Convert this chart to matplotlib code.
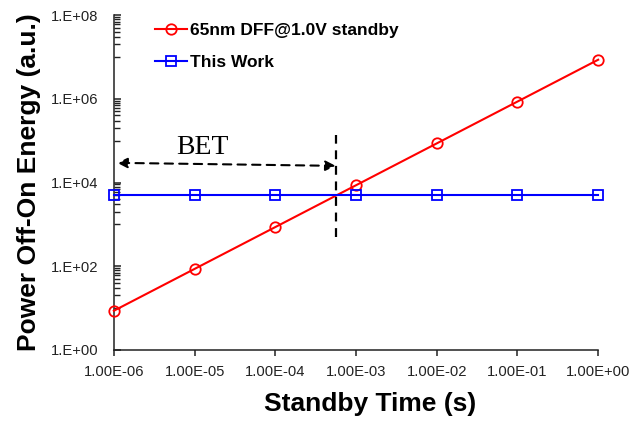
import numpy as np
import matplotlib
matplotlib.use('Agg')
import matplotlib.pyplot as plt
from matplotlib.ticker import FixedLocator, FuncFormatter

# standby time (s)
tiempo = [1e-6, 1e-5, 1e-4, 1e-3, 1e-2, 1e-1, 1e0]
# energia de apagado/encendido (a.u.)
dff = [8.6, 86, 860, 8600, 8.6e4, 8.6e5, 8.6e6]
this_work = [5000, 5000, 5000, 5000, 5000, 5000, 5000]
bet = 5.6e-4

y_major = [1e0, 1e2, 1e4, 1e6, 1e8]
y_minor = [k * 10.0**e for e in (1, 3, 5, 7) for k in range(1, 10)]

plt.rcParams['font.family'] = ['Liberation Sans', 'DejaVu Sans']

fig = plt.figure(figsize=(6.29, 4.21), dpi=100)
ax = fig.add_axes([0.181, 0.169, 0.77, 0.795])

ax.plot(tiempo, dff, color='#ff0000', lw=1.5, marker='o', ms=7.5,
        mfc='none', mew=1.3, label='65nm DFF@1.0V standby', clip_on=False, zorder=3)
ax.plot(tiempo, this_work, color='#0000ff', lw=1.5, marker='s', ms=6.5,
        mfc='none', mew=1.3, label='This Work', clip_on=False, zorder=3)

ax.set_xscale('log')
ax.set_yscale('log')
ax.set_xlim(1e-6, 1e0)
ax.set_ylim(1e0, 1e8)

ax.xaxis.set_major_locator(FixedLocator(tiempo))
ax.xaxis.set_minor_locator(FixedLocator([]))
ax.xaxis.set_major_formatter(FuncFormatter(lambda v, p: '%.2E' % v))
ax.yaxis.set_major_locator(FixedLocator(y_major))
ax.yaxis.set_minor_locator(FixedLocator(y_minor))
ax.yaxis.set_major_formatter(FuncFormatter(lambda v, p: '1.E+%02d' % round(np.log10(v))))
ax.yaxis.set_minor_formatter(FuncFormatter(lambda v, p: ''))

ax.tick_params(axis='x', which='major', direction='out', length=4, width=1.1,
               pad=7, labelsize=10.6, colors='#222222')
ax.tick_params(axis='y', which='major', direction='in', length=5, width=1.1,
               pad=11, labelsize=10.6, colors='#222222')
ax.tick_params(axis='y', which='minor', direction='in', length=4, width=1.0, colors='#222222')

for s in ['top', 'right']:
    ax.spines[s].set_visible(False)
for s in ['left', 'bottom']:
    ax.spines[s].set_linewidth(1.1)
    ax.spines[s].set_color('#222222')

ax.set_xlabel('Standby Time (s)', fontsize=19, fontweight='bold')
ax.set_ylabel('Power Off-On Energy (a.u.)', fontsize=19, fontweight='bold')
ax.xaxis.set_label_coords(0.53, -0.125)
ax.yaxis.set_label_coords(-0.15, 0.5)

# BET
ax.plot([bet, bet], [500, 1.4e5], color='black', lw=1.6, ls=(0, (4, 3)))
ax.annotate('', xy=(1.1e-6, 2.95e4), xytext=(bet, 2.5e4),
            arrowprops=dict(arrowstyle='<|-|>', color='black', lw=1.5,
                            linestyle=(0, (4, 3)), mutation_scale=15,
                            shrinkA=0, shrinkB=0))
ax.text(1.25e-5, 6.7e4, 'BET', fontsize=20, family='Liberation Serif',
        ha='center', va='center')

ax.legend(loc='upper left', bbox_to_anchor=(0.085, 0.978), frameon=False,
          prop={'size': 12.5, 'weight': 'bold'}, handlelength=1.85,
          handletextpad=0.15, labelspacing=1.0, borderpad=0, borderaxespad=0)

fig.savefig('out.png', dpi=100)
